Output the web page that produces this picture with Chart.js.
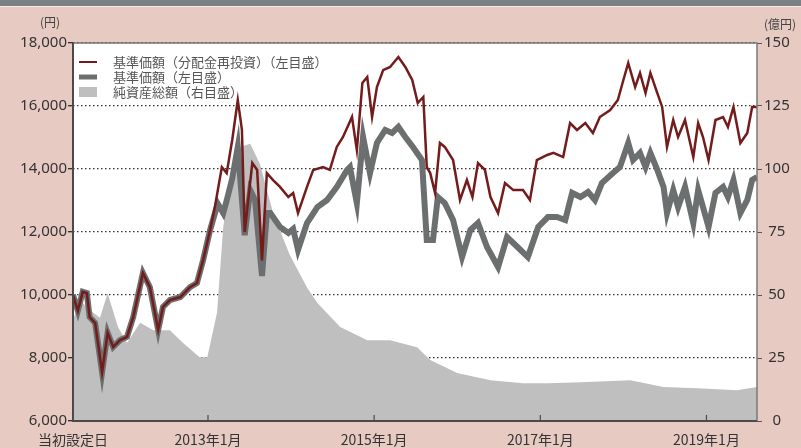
<!DOCTYPE html>
<html lang="ja">
<head>
<meta charset="utf-8">
<title>基準価額・純資産の推移</title>
<script src="https://cdn.jsdelivr.net/npm/chart.js@4/dist/chart.umd.min.js"></script>
<style>
    html, body { margin: 0; padding: 0; background: #e7cbc2; }
    #wrap { position: relative; width: 801px; height: 448px; background: #e7cbc2; overflow: hidden; }
    #topBar { position: absolute; left: 0; top: 0; width: 801px; height: 6px; background: #7c8087; border-bottom: 1px solid #f3ecea; }
    #chart { position: absolute; left: 0; top: 0; }
</style>
</head>
<body>
<div id="wrap">
    <canvas id="chart" width="801" height="448"></canvas>
    <div id="topBar"></div>
</div>
<script>
// months counted from 2013年1月 (= 0)
const tickMonths = [-19.5, 0, 24, 48, 72];
const tickLabels = ['当初設定日', '2013年1月', '2015年1月', '2017年1月', '2019年1月'];

// 基準価額(分配金再投資) 円
const reinvestMonths = [-19.5, -18.8, -18.1, -17.5, -17.1, -16.3, -15.3, -14.5, -13.7, -12.7, -11.7, -10.8, -9.4, -8.4, -7.2, -6.5, -5.5, -4.0, -2.6, -1.6, -0.7, 0.3, 1.0, 2.0, 2.7, 3.5, 4.3, 4.9, 5.3, 6.4, 7.1, 7.8, 8.5, 9.4, 10.4, 11.6, 12.3, 13.0, 14.3, 15.2, 16.6, 17.6, 18.6, 19.5, 20.8, 21.5, 22.3, 23.0, 23.7, 24.4, 25.3, 26.3, 27.5, 28.5, 29.5, 30.3, 31.1, 31.6, 32.1, 32.8, 33.5, 34.2, 35.4, 36.4, 37.4, 38.2, 39.0, 40.0, 40.8, 41.9, 42.9, 44.1, 45.5, 46.5, 47.5, 49.0, 49.9, 51.3, 52.3, 53.3, 54.5, 55.6, 56.6, 58.1, 59.2, 60.0, 60.7, 61.7, 62.4, 63.2, 63.9, 64.9, 65.6, 66.3, 67.2, 67.9, 68.9, 70.1, 70.8, 71.5, 72.3, 73.3, 74.4, 75.1, 75.9, 76.9, 77.9, 78.6, 79.3];
const reinvestValues = [10000, 9500, 10100, 10060, 9300, 9110, 7550, 8800, 8350, 8570, 8670, 9300, 10700, 10250, 8890, 9620, 9840, 9935, 10250, 10380, 11110, 12060, 12800, 14060, 13870, 14920, 16190, 15240, 12000, 14190, 13970, 11100, 13870, 13650, 13430, 13110, 13240, 12600, 13430, 13970, 14060, 13970, 14700, 15015, 15650, 14600, 16730, 16920, 15650, 16600, 17140, 17240, 17555, 17240, 16825, 16095, 16285, 14060, 13870, 13240, 14825, 14700, 14285, 13015, 13650, 13110, 14190, 13970, 13110, 12600, 13555, 13330, 13330, 13015, 14285, 14445, 14510, 14380, 15460, 15240, 15460, 15145, 15650, 15870, 16190, 16825, 17365, 16600, 17050, 16410, 17050, 16410, 15970, 14700, 15555, 15015, 15555, 14380, 15460, 15015, 14285, 15555, 15650, 15335, 15970, 14825, 15145, 15970, 15970];

// 基準価額 円
const navMonths = [-19.5, -18.8, -18.1, -17.5, -17.1, -16.3, -15.3, -14.5, -13.7, -12.7, -11.7, -10.8, -9.4, -8.4, -7.2, -6.5, -5.5, -4.0, -2.6, -1.6, -0.7, 0.3, 1.4, 2.2, 2.7, 3.5, 4.3, 5.1, 5.3, 6.1, 6.8, 7.8, 8.5, 9.0, 10.4, 11.6, 12.3, 13.0, 14.3, 15.8, 17.2, 18.6, 20.1, 20.5, 21.5, 22.4, 23.4, 24.4, 25.6, 26.6, 27.5, 28.5, 29.6, 30.9, 31.6, 32.5, 33.2, 34.2, 35.4, 36.7, 37.9, 39.0, 40.3, 41.9, 43.2, 44.7, 46.2, 47.7, 49.1, 50.4, 51.6, 52.6, 53.8, 54.9, 55.9, 56.9, 58.5, 59.5, 60.7, 61.4, 62.4, 63.2, 63.9, 64.9, 65.8, 66.3, 67.2, 67.9, 68.9, 70.1, 70.8, 71.5, 72.3, 73.3, 74.4, 75.1, 75.9, 76.9, 77.9, 78.6, 79.3];
const navValues = [10000, 9500, 10100, 10060, 9300, 9110, 7550, 8800, 8350, 8570, 8670, 9300, 10700, 10250, 8890, 9620, 9840, 9935, 10250, 10380, 11110, 12060, 12900, 12600, 13000, 13700, 14700, 12475, 11900, 13330, 13015, 10600, 12600, 12600, 12160, 11970, 12100, 11430, 12285, 12790, 13015, 13430, 13970, 14060, 12920, 15015, 13870, 14825, 15240, 15145, 15335, 15015, 14700, 14285, 11745, 11745, 13110, 12920, 12380, 11205, 12065, 12285, 11525, 10890, 11840, 11525, 11205, 12160, 12475, 12475, 12380, 13240, 13110, 13270, 13015, 13555, 13870, 14060, 14825, 14285, 14510, 14060, 14510, 13970, 13430, 12600, 13330, 12790, 13430, 12285, 13330, 12790, 12160, 13240, 13430, 13110, 13650, 12600, 13015, 13650, 13745];

// 純資産総額 億円
const assetMonths = [-19.5, -18.5, -17.1, -15.6, -14.5, -13.0, -11.7, -9.8, -7.9, -5.5, -3.6, -1.2, -0.1, 1.3, 2.2, 3.2, 4.6, 6.1, 7.5, 9.4, 11.8, 14.3, 15.8, 19.1, 23.0, 26.3, 30.2, 32.1, 36.0, 40.8, 45.5, 49.0, 53.8, 61.0, 65.8, 70.7, 76.4, 79.3];
const assetValues = [40, 48, 44, 41, 50.7, 37.3, 31, 39, 36, 36, 31, 25.3, 25.3, 43, 77, 95.6, 108.7, 110, 102, 82.5, 66, 53, 46.8, 37.3, 32, 32, 29.3, 24.2, 19, 16.2, 15, 15, 15.4, 16.2, 13.5, 13, 12.2, 13.5];

const legendItems = [
    { label: '基準価額（分配金再投資）（左目盛）', kind: 'line', color: '#741b1b', width: 2 },
    { label: '基準価額（左目盛）', kind: 'line', color: '#6c6f6f', width: 5 },
    { label: '純資産総額（右目盛）', kind: 'box', color: '#bfbfbf' }
];

const toPoints = (xs, ys) => xs.map((x, i) => ({ x: x, y: ys[i] }));

const FONT = '"Noto Sans", "Noto Sans CJK JP", sans-serif';
const JP_FONT = '"Noto Sans CJK JP", "Noto Sans", sans-serif';

// white plot area + frame, inner ticks, units and legend
const decorPlugin = {
    id: 'decor',
    beforeDatasetsDraw(chart) {
        const { ctx, chartArea: a } = chart;
        ctx.save();
        ctx.fillStyle = '#ffffff';
        ctx.fillRect(a.left, a.top, a.right - a.left, a.bottom - a.top);
        ctx.restore();
        // redraw grid on top of the white fill
        chart.scales.y.drawGrid(a);
    },
    afterDatasetsDraw(chart) {
        const { ctx, chartArea: a, scales } = chart;
        ctx.save();

        // frame
        ctx.strokeStyle = '#7a7a7a';
        ctx.lineWidth = 1.5;
        ctx.beginPath();
        ctx.moveTo(a.left, a.top);
        ctx.lineTo(a.right, a.top);
        ctx.lineTo(a.right, a.bottom);
        ctx.stroke();
        ctx.strokeStyle = '#4a4a4a';
        ctx.lineWidth = 2;
        ctx.beginPath();
        ctx.moveTo(a.left, a.top);
        ctx.lineTo(a.left, a.bottom);
        ctx.lineTo(a.right, a.bottom);
        ctx.stroke();

        // inner tick marks on the time axis
        ctx.lineWidth = 1.2;
        tickMonths.slice(1).forEach(m => {
            const px = scales.x.getPixelForValue(m);
            ctx.beginPath();
            ctx.moveTo(px, a.bottom);
            ctx.lineTo(px, a.bottom - 6);
            ctx.stroke();
        });

        // units
        ctx.fillStyle = '#444';
        ctx.font = '12px ' + JP_FONT;
        ctx.textAlign = 'center';
        ctx.textBaseline = 'middle';
        ctx.fillText('(円)', 50, 22);
        ctx.fillText('(億円)', 780, 24);

        // legend
        ctx.font = '13px ' + JP_FONT;
        ctx.textAlign = 'left';
        legendItems.forEach((item, i) => {
            const y = a.top + 19 + i * 15;
            if (item.kind === 'line') {
                ctx.strokeStyle = item.color;
                ctx.lineWidth = item.width;
                ctx.beginPath();
                ctx.moveTo(a.left + 6, y);
                ctx.lineTo(a.left + 24, y);
                ctx.stroke();
            } else {
                ctx.fillStyle = item.color;
                ctx.fillRect(a.left + 6, y - 5, 18, 10);
            }
            ctx.fillStyle = '#555';
            ctx.fillText(item.label, a.left + 40, y);
        });
        ctx.restore();
    }
};

new Chart(document.getElementById('chart'), {
    type: 'line',
    data: {
        datasets: [
            {
                label: legendItems[0].label,
                data: toPoints(reinvestMonths, reinvestValues),
                yAxisID: 'y',
                borderColor: '#741b1b',
                borderWidth: 2.5,
                pointRadius: 0,
                tension: 0,
                fill: false
            },
            {
                label: legendItems[1].label,
                data: toPoints(navMonths, navValues),
                yAxisID: 'y',
                borderColor: '#6c6f6f',
                borderWidth: 6,
                pointRadius: 0,
                tension: 0,
                fill: false
            },
            {
                label: legendItems[2].label,
                data: toPoints(assetMonths, assetValues),
                yAxisID: 'y2',
                borderWidth: 0,
                borderColor: '#bfbfbf',
                backgroundColor: '#bfbfbf',
                pointRadius: 0,
                tension: 0,
                fill: 'origin'
            }
        ]
    },
    options: {
        responsive: false,
        animation: false,
        layout: { padding: { top: 43, left: 0, right: 0, bottom: 0 } },
        plugins: {
            legend: { display: false },
            tooltip: { enabled: false }
        },
        scales: {
            x: {
                type: 'linear',
                min: -19.5,
                max: 79.3,
                afterBuildTicks: scale => {
                    scale.ticks = tickMonths.map(v => ({ value: v }));
                },
                afterFit: scale => { scale.height = 27; },
                ticks: {
                    autoSkip: false,
                    maxRotation: 0,
                    padding: 2,
                    color: '#333',
                    font: { family: JP_FONT, size: 14 },
                    callback: value => tickLabels[tickMonths.indexOf(value)]
                },
                grid: { display: false },
                border: { display: false }
            },
            y: {
                position: 'left',
                min: 6000,
                max: 18000,
                afterFit: scale => { scale.width = 73; },
                ticks: {
                    stepSize: 2000,
                    padding: 1,
                    color: '#333',
                    font: { family: FONT, size: 15 },
                    callback: value => value.toLocaleString('en-US')
                },
                grid: {
                    color: '#333',
                    lineWidth: 1.2,
                    tickLength: 5,
                    drawTicks: true
                },
                border: { display: false, dash: [1.5, 2.5] }
            },
            y2: {
                position: 'right',
                min: 0,
                max: 150,
                afterFit: scale => { scale.width = 44; },
                ticks: {
                    stepSize: 25,
                    padding: 2,
                    crossAlign: 'center',
                    color: '#333',
                    font: { family: FONT, size: 15 }
                },
                grid: {
                    drawOnChartArea: false,
                    color: '#555',
                    tickLength: 5
                },
                border: { display: false }
            }
        }
    },
    plugins: [decorPlugin]
});
</script>
</body>
</html>
